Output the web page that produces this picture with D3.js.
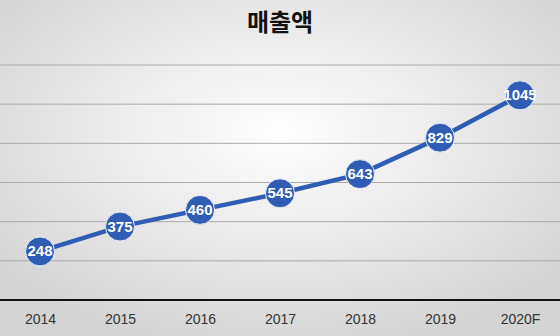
<!DOCTYPE html>
<html>
<head>
<meta charset="utf-8">
<script src="https://cdn.jsdelivr.net/npm/d3@7"></script>
<style>
  html, body { margin: 0; padding: 0; }
  body { width: 560px; height: 336px; overflow: hidden; }
</style>
</head>
<body>
<div id="chart"></div>
<script>
const years = ["2014", "2015", "2016", "2017", "2018", "2019", "2020F"];
const sales = [248, 375, 460, 545, 643, 829, 1045];
const gridValues = [0, 200, 400, 600, 800, 1000, 1200];
const title = "매출액";

const width = 560, height = 336;
const narrow = "'Liberation Sans Narrow', 'Liberation Sans', Arial, sans-serif";

const svg = d3.select("#chart").append("svg")
    .attr("width", width)
    .attr("height", height);

// background: light gray with a lighter centre
const defs = svg.append("defs");
const grad = defs.append("radialGradient")
    .attr("id", "bg")
    .attr("cx", "50%").attr("cy", "40%").attr("r", "65%");
grad.append("stop").attr("offset", "0%").attr("stop-color", "#ffffff");
grad.append("stop").attr("offset", "100%").attr("stop-color", "#d4d4d4");

svg.append("rect")
    .attr("width", width).attr("height", height)
    .attr("fill", "url(#bg)");

const x = d3.scalePoint()
    .domain(years)
    .range([0, width])
    .padding(0.5);

const y = d3.scaleLinear()
    .domain([0, 1200])
    .range([300, 65]);

// gridlines
svg.append("g")
    .selectAll("line")
    .data(gridValues.slice(1))
    .enter()
    .append("line")
    .attr("x1", 0).attr("x2", width)
    .attr("y1", d => y(d)).attr("y2", d => y(d))
    .attr("stroke", "#ababab")
    .attr("stroke-width", 1);

// x axis
const xAxis = svg.append("g")
    .attr("transform", `translate(0,${y(0)})`)
    .call(d3.axisBottom(x).tickSize(0).tickPadding(14));
xAxis.select(".domain")
    .attr("d", `M0,0H${width}`)
    .attr("stroke", "#111")
    .attr("stroke-width", 2);
xAxis.selectAll("text")
    .attr("font-family", narrow)
    .attr("font-size", 14)
    .attr("fill", "#333");

// title
svg.append("text")
    .attr("x", width / 2)
    .attr("y", 31)
    .attr("text-anchor", "middle")
    .attr("font-family", "'Noto Sans CJK KR', sans-serif")
    .attr("font-weight", "bold")
    .attr("font-size", 24)
    .attr("fill", "#111")
    .text(title);

const data = years.map((yr, i) => ({ year: yr, value: sales[i] }));

// line
svg.append("path")
    .datum(data)
    .attr("fill", "none")
    .attr("stroke", "#2f5db5")
    .attr("stroke-width", 4.5)
    .attr("d", d3.line().x(d => x(d.year)).y(d => y(d.value)));

// markers
svg.append("g")
    .selectAll("circle")
    .data(data)
    .enter()
    .append("circle")
    .attr("cx", d => x(d.year))
    .attr("cy", d => y(d.value))
    .attr("r", 14.5)
    .attr("fill", "#2f5db5")
    .attr("stroke", "#e8eef8")
    .attr("stroke-width", 1);

// labels
svg.append("g")
    .selectAll("text")
    .data(data)
    .enter()
    .append("text")
    .attr("x", d => x(d.year))
    .attr("y", d => y(d.value) + 5)
    .attr("text-anchor", "middle")
    .attr("font-family", narrow)
    .attr("font-weight", "bold")
    .attr("font-size", 15)
    .attr("fill", "#fff")
    .text(d => d.value);
</script>
</body>
</html>
